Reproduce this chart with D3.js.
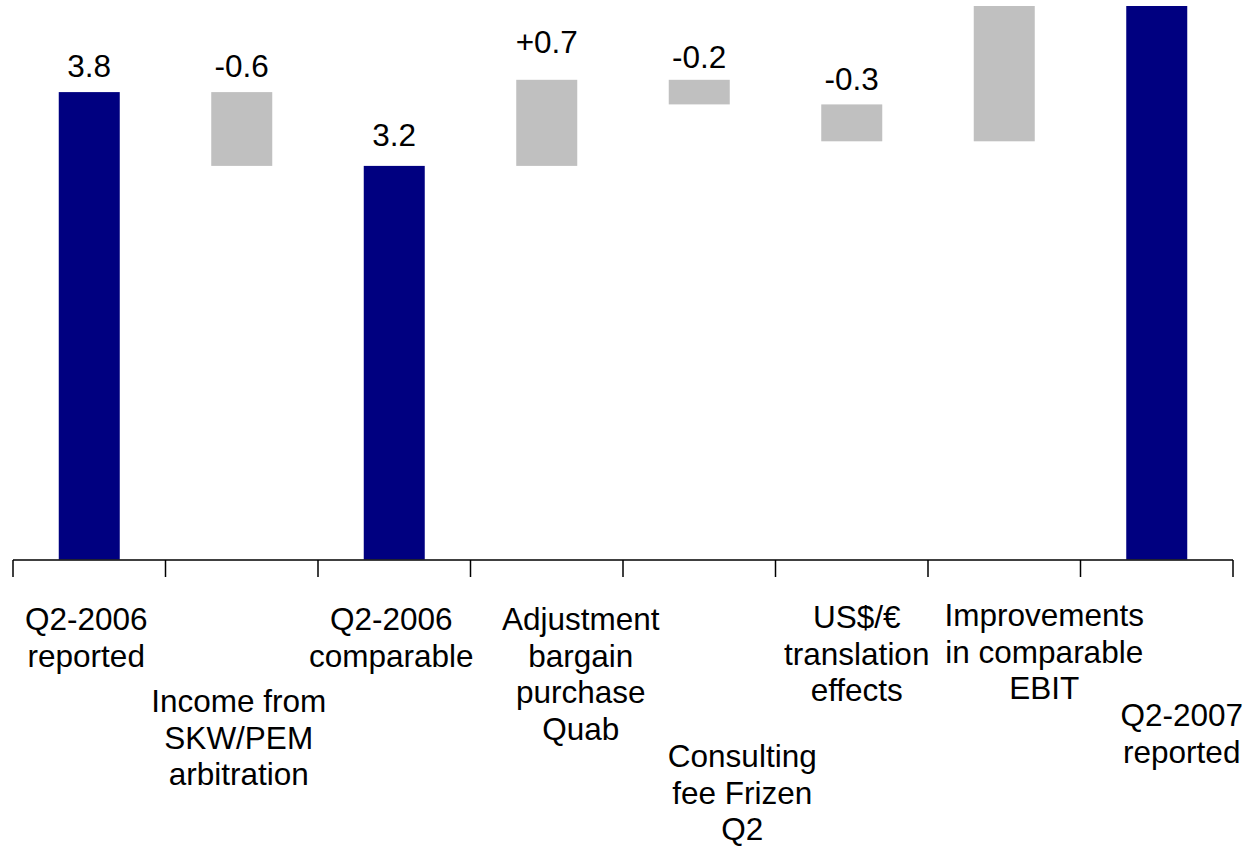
<!DOCTYPE html>
<html>
<head>
<meta charset="utf-8">
<script src="https://cdn.jsdelivr.net/npm/d3@7"></script>
<style>
  html, body { margin: 0; padding: 0; background: #fff; }
  svg { display: block; }
  text { font-family: "Liberation Sans", Arial, sans-serif; fill: #000; }
</style>
</head>
<body>
<svg id="chart" width="1247" height="847"></svg>
<script>
// EBIT bridge Q2-2006 -> Q2-2007 (EUR m)
const categories = [
  ["Q2-2006", "reported"],
  ["Income from", "SKW/PEM", "arbitration"],
  ["Q2-2006", "comparable"],
  ["Adjustment", "bargain", "purchase", "Quab"],
  ["Consulting", "fee Frizen", "Q2"],
  ["US$/€", "translation", "effects"],
  ["Improvements", "in comparable", "EBIT"],
  ["Q2-2007", "reported"]
];
const values = [3.8, -0.6, 3.2, 0.7, -0.2, -0.3, 1.5, 4.9];
const kinds  = ["total", "delta", "total", "delta", "delta", "delta", "delta", "total"];

// Layout of the category captions: horizontal shift from band centre,
// first baseline below the axis, and lift of value labels above the bar.
const captionShift = [-3, -3, -3, 34, 43, 5, 40, 25];
const captionDrop  = [70, 152, 70, 70, 207, 68, 66, 166];
const valueLift    = [15, 15, 20, 27, 12, 14, 15, 15];
const FONT = "31.5px";

const NAVY = "#000080", GREY = "#c0c0c0";
const fmtLocale = d3.formatLocale({decimal: ".", thousands: ",", grouping: [3], currency: ["", ""], minus: "-"});
const fmtTotal = fmtLocale.format(".1f");
const fmtDelta = fmtLocale.format("+.1f");

// running waterfall
let running = 0;
const bars = values.map((v, i) => {
  let lo, hi;
  if (kinds[i] === "total") { lo = 0; hi = v; running = v; }
  else { const s = running; running = s + v; lo = Math.min(s, running); hi = Math.max(s, running); }
  return {i, lo, hi, kind: kinds[i], label: kinds[i] === "total" ? fmtTotal(v) : fmtDelta(v)};
});

const svg = d3.select("#chart");
const axisY = 560, plotTop = 6;

const x = d3.scaleBand().domain(d3.range(categories.length)).range([13, 1233]).paddingInner(0).paddingOuter(0);
const y = d3.scaleLinear().domain([0, 4.5]).range([559.5, plotTop]);
const barW = x.bandwidth() * 0.4;

svg.append("defs").append("clipPath").attr("id", "plot")
  .append("rect").attr("x", 0).attr("y", plotTop).attr("width", 1247).attr("height", axisY - plotTop);

const plot = svg.append("g").attr("clip-path", "url(#plot)");

plot.selectAll("rect.bar").data(bars).join("rect")
  .attr("class", "bar")
  .attr("x", d => x(d.i) + (x.bandwidth() - barW) / 2)
  .attr("width", barW)
  .attr("y", d => y(d.hi))
  .attr("height", d => y(d.lo) - y(d.hi))
  .attr("fill", d => d.kind === "total" ? NAVY : GREY);

// value labels only where the bar top lies inside the plotted range
const yMax = y.domain()[1];
plot.selectAll("text.val").data(bars.filter(d => d.hi <= yMax)).join("text")
  .attr("class", "val")
  .attr("x", d => x(d.i) + x.bandwidth() / 2)
  .attr("y", d => y(d.hi) - valueLift[d.i])
  .attr("text-anchor", "middle")
  .style("font-size", FONT)
  .text(d => d.label);

// category axis: baseline with ticks at every band boundary
const axisG = svg.append("g");
axisG.append("line")
  .attr("x1", x.range()[0]).attr("x2", x.range()[1])
  .attr("y1", axisY).attr("y2", axisY)
  .attr("stroke", "#000").attr("stroke-width", 1.5);
const bounds = d3.range(categories.length + 1).map(k => k < categories.length ? x(k) : x.range()[1]);
axisG.selectAll("line.tick").data(bounds).join("line")
  .attr("class", "tick")
  .attr("x1", d => d).attr("x2", d => d)
  .attr("y1", axisY).attr("y2", axisY + 17)
  .attr("stroke", "#000").attr("stroke-width", 1.5);

const lineGap = 36.5;
const caps = svg.append("g").selectAll("text.cap").data(categories).join("text")
  .attr("class", "cap")
  .attr("text-anchor", "middle")
  .style("font-size", FONT)
  .attr("x", (d, i) => x(i) + x.bandwidth() / 2 + captionShift[i])
  .attr("y", (d, i) => axisY + captionDrop[i]);
caps.each(function(lines, i) {
  const t = d3.select(this);
  const cx = x(i) + x.bandwidth() / 2 + captionShift[i];
  lines.forEach((ln, k) => {
    t.append("tspan").attr("x", cx).attr("dy", k === 0 ? 0 : lineGap).text(ln);
  });
});
</script>
</body>
</html>
